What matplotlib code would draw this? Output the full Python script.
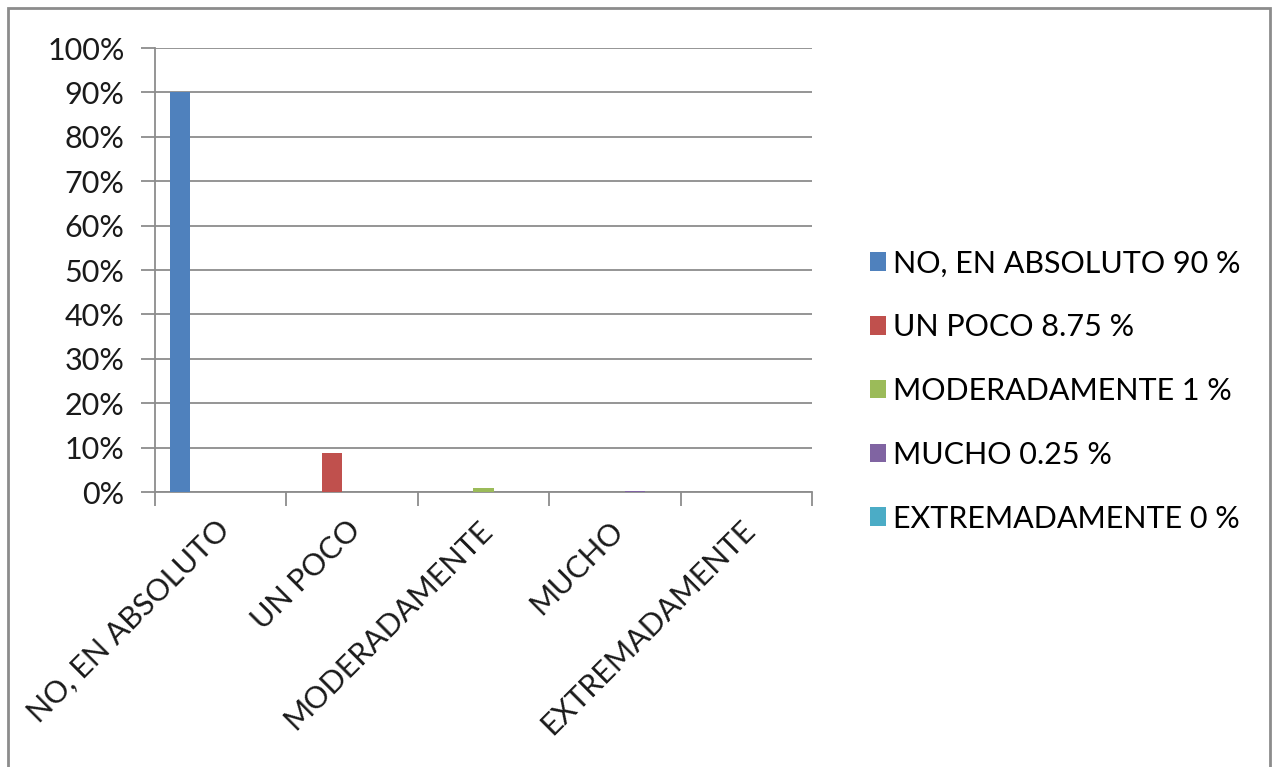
import numpy as np
import matplotlib
matplotlib.use("Agg")
import matplotlib.pyplot as plt
from matplotlib.patches import Rectangle, Patch
from matplotlib.transforms import ScaledTranslation

categories = ["NO, EN ABSOLUTO", "UN POCO", "MODERADAMENTE", "MUCHO", "EXTREMADAMENTE"]
values = [0.90, 0.0875, 0.01, 0.0025, 0.0]
legend_labels = ["NO, EN ABSOLUTO 90 %", "UN POCO 8.75 %", "MODERADAMENTE 1 %",
                 "MUCHO 0.25 %", "EXTREMADAMENTE 0 %"]
colors = ["#4F81BD", "#C0504D", "#9BBB59", "#8064A2", "#4BACC6"]
yticks = [0, 0.1, 0.2, 0.3, 0.4, 0.5, 0.6, 0.7, 0.8, 0.9, 1.0]
ytick_labels = ["0%", "10%", "20%", "30%", "40%", "50%", "60%", "70%", "80%", "90%", "100%"]

plt.rcParams['font.family'] = ['Lato', 'DejaVu Sans']
FS = 22
W, H = 1274, 767
fig = plt.figure(figsize=(W / 100, H / 100), dpi=100)
fig.patch.set_facecolor("white")

ax = fig.add_axes([155 / W, 1 - 492 / H, (812 - 155) / W, (492 - 48) / H])
n = len(categories)
w = 1 / (n + 1.5)
x = np.arange(n)
for i in range(n):
    series = [values[i] if j == i else 0 for j in range(n)]
    ax.bar(x + (i - (n - 1) / 2) * w, series, width=w, color=colors[i], zorder=3)

ax.set_xlim(-0.5, n - 0.5)
ax.set_ylim(0, 1)
ax.set_yticks(yticks)
ax.set_yticklabels(ytick_labels, fontsize=FS, color="#1a1a1a")
ax.yaxis.grid(True, color="#8c8c8c", linewidth=1.3, zorder=0)
ax.tick_params(axis="y", length=10, width=1.3, color="#8c8c8c", pad=12)

ax.set_xticks(np.arange(-0.5, n, 1.0))
ax.set_xticklabels([])
ax.tick_params(axis="x", which="major", length=10, width=1.3, color="#8c8c8c")
ax.set_xticks(x, minor=True)
ax.set_xticklabels(categories, minor=True, rotation=45, ha="right", va="top",
                   fontsize=FS, color="#1a1a1a")
ax.tick_params(axis="x", which="minor", length=0, pad=17)
for lbl in ax.get_xticklabels(minor=True):
    lbl.set_transform(lbl.get_transform() + ScaledTranslation(14 / 100, 0, fig.dpi_scale_trans))

for s in ["top", "right"]:
    ax.spines[s].set_visible(False)
for s in ["left", "bottom"]:
    ax.spines[s].set_color("#8c8c8c")
    ax.spines[s].set_linewidth(1.3)

handles = [Patch(facecolor=c, edgecolor="none") for c in colors]
fig.legend(handles, legend_labels, loc="center left",
           bbox_to_anchor=(842 / W, 1 - 391 / H), frameon=False, fontsize=FS,
           handlelength=0.55, handleheight=0.55, handletextpad=0.22, labelspacing=1.17)

fig.add_artist(Rectangle((8 / W, -0.01), (1270 - 8) / W, 1 - 8 / H + 0.01,
                         transform=fig.transFigure, fill=False,
                         edgecolor="#8c8c8c", linewidth=2))

fig.savefig("out.png", dpi=100, facecolor="white")
